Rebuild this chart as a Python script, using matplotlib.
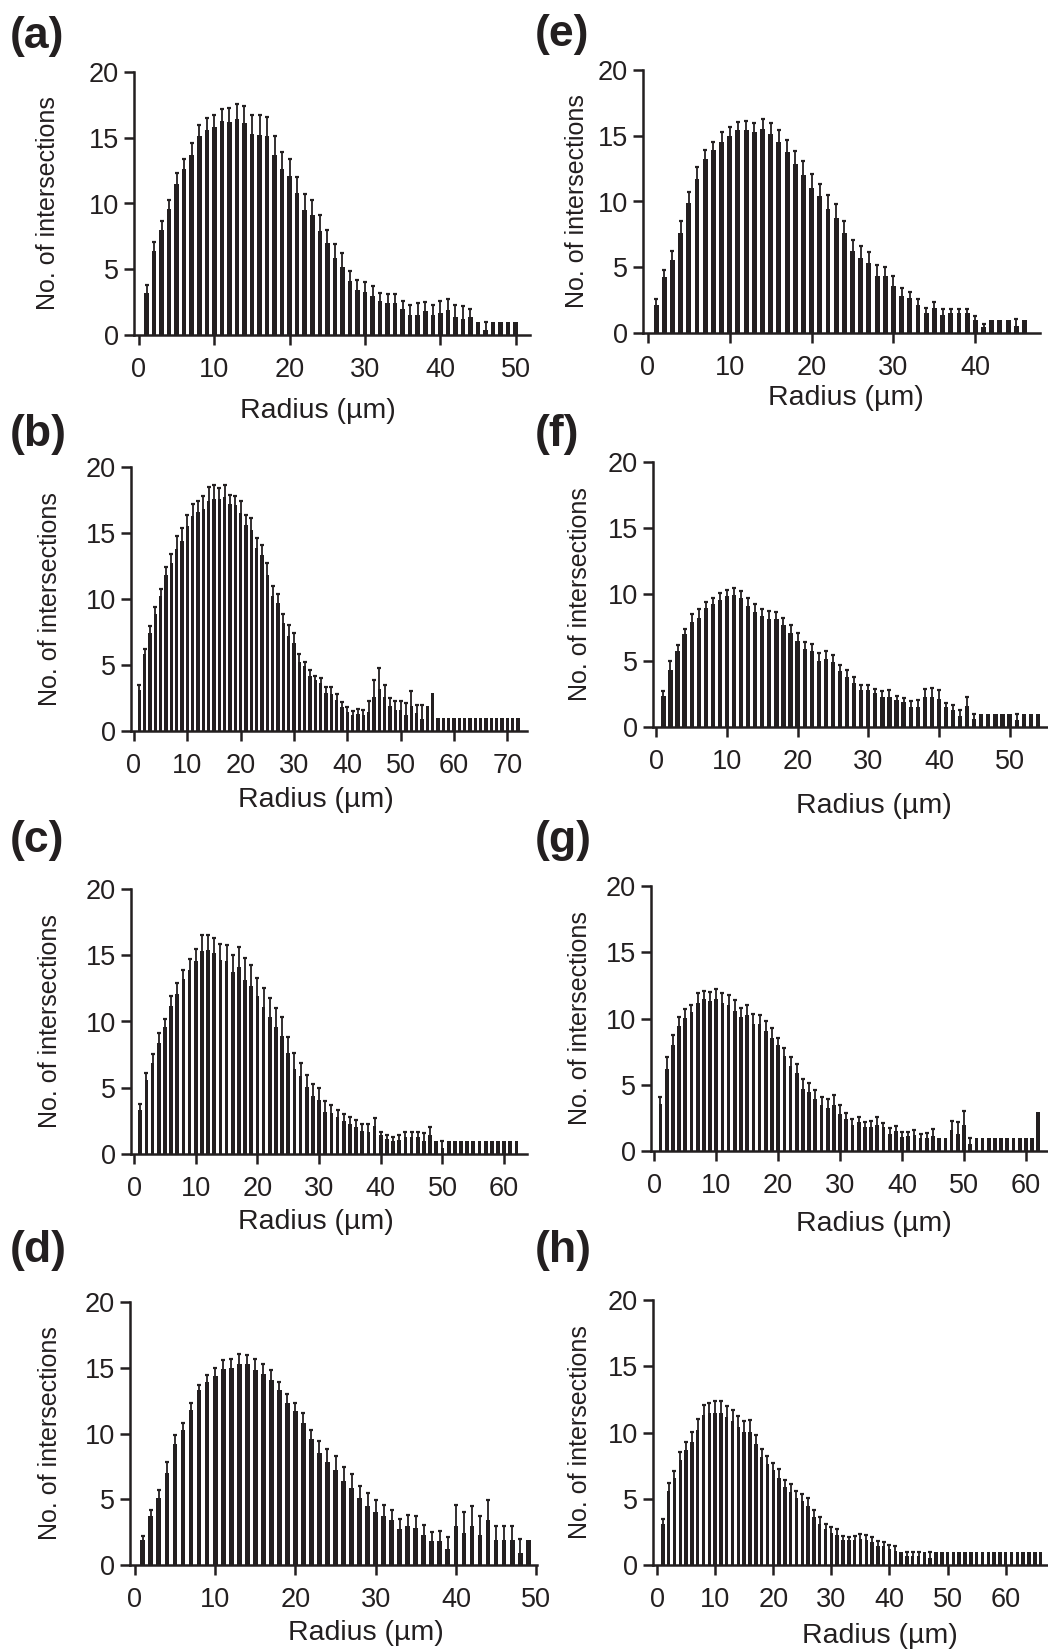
import matplotlib
matplotlib.use("Agg")
import matplotlib.pyplot as plt
import numpy as np

plt.rcParams['font.family'] = ['Liberation Sans', 'DejaVu Sans']

# mean number of intersections and SEM per radius step (1 um)
a_mean = [3.2, 6.4, 8.0, 9.6, 11.5, 12.6, 13.7, 15.1, 15.6, 15.8, 16.3, 16.2, 16.4, 16.1, 15.3, 15.2, 15.1,
          13.7, 12.6, 12.1, 10.8, 9.5, 9.1, 7.9, 7.0, 5.85, 5.2, 4.1, 3.4, 3.3, 3.0, 2.6, 2.4, 2.45, 2.0,
          1.55, 1.55, 1.8, 1.5, 1.7, 1.9, 1.4, 1.25, 1.4, 1.0, 0.4, 1.0, 1.0, 1.0, 1.0]
a_sem = [0.6, 0.7, 0.7, 0.7, 0.85, 0.8, 0.9, 0.9, 0.9, 0.9, 0.9, 1.1, 1.2, 1.3, 1.4, 1.5, 1.5, 1.4, 1.3,
         1.3, 1.2, 1.2, 1.2, 1.2, 1.0, 1.05, 1.0, 0.8, 0.8, 0.7, 0.7, 0.6, 0.7, 0.65, 0.6, 0.7, 0.85,
         0.7, 0.8, 0.9, 0.8, 0.9, 0.95, 0.6, 0, 0.6, 0, 0, 0, 0]

b_mean = [3.1, 5.8, 7.4, 8.9, 10.25, 11.8, 12.7, 13.8, 14.4, 15.5, 16.3, 16.6, 16.8, 17.4, 17.6, 17.6,
          17.7, 17.2, 17.1, 16.5, 15.6, 15.2, 13.9, 13.3, 11.8, 10.2, 9.7, 8.2, 7.2, 6.7, 5.25, 4.9, 4.2,
          3.9, 3.6, 2.85, 2.8, 2.35, 1.85, 1.45, 1.2, 1.25, 1.2, 1.45, 2.55, 3.2, 2.55, 1.9, 1.6, 1.6,
          1.2, 1.9, 1.4, 0.9, 1.9, 2.9, 1.0, 1.0, 1.0, 1.0, 1.0, 1.0, 1.0, 1.0, 1.0, 1.0, 1.0, 1.0,
          1.0, 1.0, 1.0, 1.0]
b_sem = [0.4, 0.4, 0.55, 0.5, 0.5, 0.6, 0.7, 1.0, 1.0, 0.9, 0.9, 0.85, 1.0, 1.05, 1.0, 0.8, 0.9, 0.7,
         0.7, 0.9, 0.8, 0.9, 0.7, 0.8, 0.9, 0.8, 0.7, 0.7, 0.8, 0.7, 0.55, 0.35, 0.4, 0.25, 0.4, 0.45,
         0.5, 0.45, 0.35, 0.35, 0.35, 0.45, 0.4, 0.85, 1.35, 1.55, 0.95, 0.6, 0.7, 0.7, 0.95, 1.1, 0.6,
         1.1, 0, 0, 0, 0, 0, 0, 0, 0, 0, 0, 0, 0, 0, 0, 0, 0, 0, 0]

c_mean = [3.3, 5.6, 6.9, 8.4, 9.55, 11.2, 12.1, 13.2, 13.85, 14.6, 15.35, 15.4, 15.2, 14.65, 14.55, 13.7,
          14.15, 13.15, 12.7, 11.9, 11.1, 10.35, 9.55, 8.9, 7.6, 6.4, 5.85, 5.05, 4.4, 4.05, 3.2, 3.1,
          2.8, 2.5, 2.3, 2.05, 1.75, 1.65, 2.15, 1.4, 1.15, 1.0, 1.05, 1.3, 1.3, 1.3, 1.0, 1.4, 1.0,
          0.45, 1.0, 1.0, 1.0, 1.0, 1.0, 1.0, 1.0, 1.0, 1.0, 1.0, 1.0, 1.0]
c_sem = [0.45, 0.5, 0.65, 0.7, 0.65, 0.7, 0.8, 0.7, 0.85, 0.9, 1.15, 1.15, 1.1, 1.2, 1.25, 1.3, 1.45,
         1.65, 1.6, 1.4, 1.4, 1.45, 1.45, 1.45, 1.2, 1.2, 1.05, 0.9, 0.85, 0.9, 0.8, 0.6, 0.55, 0.5,
         0.5, 0.5, 0.5, 0.6, 0.6, 0.25, 0.25, 0.3, 0.35, 0.35, 0.35, 0.35, 0.55, 0.6, 0, 0.5,
         0, 0, 0, 0, 0, 0, 0, 0, 0, 0, 0, 0]

d_mean = [1.9, 3.7, 5.1, 7.0, 9.2, 10.3, 11.8, 13.3, 13.9, 14.4, 14.9, 14.95, 15.25, 15.25, 14.85, 14.5,
          14.1, 13.3, 12.35, 11.7, 10.8, 9.55, 8.55, 7.8, 7.25, 6.4, 5.85, 5.1, 4.5, 4.0, 3.75, 3.45,
          2.75, 3.0, 2.85, 2.25, 1.85, 1.85, 1.25, 2.95, 2.45, 2.95, 2.25, 3.45, 1.9, 1.9, 1.9, 0.9, 1.9]
d_sem = [0.3, 0.5, 0.6, 0.8, 0.65, 0.5, 0.5, 0.4, 0.55, 0.6, 0.7, 0.7, 0.8, 0.75, 0.85, 0.75, 0.75, 0.6,
         0.65, 0.65, 0.75, 0.75, 0.9, 1.0, 1.05, 1.05, 1.1, 0.9, 0.95, 0.95, 0.8, 0.75, 0.75, 0.8, 0.85,
         0.8, 0.65, 0.75, 0.85, 1.65, 1.55, 1.55, 1.5, 1.5, 1.05, 1.05, 1.05, 1.05, 0]

e_mean = [2.15, 4.25, 5.55, 7.6, 9.9, 11.7, 13.2, 13.9, 14.55, 14.95, 15.45, 15.45, 15.25, 15.5, 15.1,
          14.55, 13.8, 12.85, 12.0, 11.05, 10.4, 9.4, 8.75, 7.6, 6.2, 5.7, 5.3, 4.3, 4.3, 3.55, 2.85,
          2.65, 2.15, 1.5, 1.9, 1.4, 1.5, 1.5, 1.5, 1.0, 0.45, 1.0, 1.0, 1.0, 0.5, 1.0]
e_sem = [0.4, 0.55, 0.7, 0.9, 0.85, 0.9, 0.7, 0.65, 0.7, 0.7, 0.6, 0.65, 0.75, 0.8, 0.85, 0.85, 0.85,
         1.0, 1.1, 1.05, 0.95, 1.1, 1.05, 0.95, 0.9, 0.95, 0.85, 0.85, 0.7, 0.75, 0.55, 0.45, 0.45, 0.4,
         0.45, 0.4, 0.3, 0.3, 0.3, 0.3, 0.25, 0, 0, 0, 0.6, 0]

f_mean = [2.35, 4.3, 5.75, 7.05, 7.95, 8.25, 8.95, 9.25, 9.6, 9.85, 9.95, 9.75, 9.15, 8.7, 8.4, 8.15,
          8.15, 7.7, 7.1, 6.5, 5.85, 5.7, 4.95, 5.15, 4.9, 4.2, 3.75, 3.3, 2.8, 2.8, 2.55, 2.3, 2.3,
          2.05, 1.85, 1.5, 1.5, 2.3, 2.3, 2.15, 1.5, 1.3, 0.8, 1.6, 0.6, 1.0, 1.0, 1.0, 1.0, 1.0, 0.5,
          1.0, 1.0, 1.0]
f_sem = [0.4, 0.65, 0.45, 0.35, 0.55, 0.65, 0.45, 0.45, 0.5, 0.5, 0.55, 0.55, 0.6, 0.6, 0.5, 0.6, 0.55,
         0.55, 0.6, 0.6, 0.6, 0.6, 0.65, 0.55, 0.55, 0.45, 0.55, 0.5, 0.4, 0.35, 0.35, 0.45, 0.5, 0.3,
         0.35, 0.45, 0.55, 0.6, 0.65, 0.65, 0.3, 0.35, 0.5, 0.7, 0.4, 0, 0, 0, 0, 0, 0.5, 0, 0, 0]

g_mean = [3.55, 6.2, 8.0, 9.4, 10.05, 10.5, 11.2, 11.45, 11.35, 11.45, 11.2, 11.05, 10.6, 10.15, 10.3,
          9.55, 9.55, 9.05, 8.5, 8.0, 7.15, 6.4, 5.9, 4.7, 4.45, 3.95, 3.45, 3.25, 3.45, 2.8, 2.45, 2.0,
          2.2, 1.8, 1.8, 2.0, 1.8, 1.3, 1.5, 1.05, 1.1, 1.2, 0.95, 1.0, 1.15, 1.0, 1.0, 1.6, 1.25, 1.95,
          0.55, 1.0, 1.0, 1.0, 1.0, 1.0, 1.0, 1.0, 1.0, 1.0, 1.0, 2.95]
g_sem = [0.55, 0.9, 0.75, 0.7, 0.65, 0.55, 0.7, 0.65, 0.65, 0.8, 0.75, 0.75, 0.8, 0.65, 0.75, 0.8, 0.75,
         0.75, 0.75, 0.5, 0.65, 0.7, 0.65, 0.7, 0.7, 0.65, 0.6, 0.7, 0.75, 0.65, 0.4, 0.4, 0.4, 0.4,
         0.45, 0.55, 0.35, 0.4, 0.35, 0.35, 0.35, 0.4, 0.3, 0.35, 0.5, 0, 0, 0.7, 0.95, 1.05, 0.45,
         0, 0, 0, 0, 0, 0, 0, 0, 0, 0, 0]

h_mean = [3.1, 5.6, 6.55, 7.95, 8.65, 9.3, 10.2, 11.3, 11.45, 11.45, 11.45, 11.2, 10.9, 10.45, 10.05,
          10.05, 9.1, 8.15, 7.6, 7.15, 6.55, 5.85, 5.5, 5.05, 4.85, 4.45, 3.65, 3.1, 2.7, 2.45, 2.3, 1.9,
          1.85, 1.9, 2.0, 1.9, 1.75, 1.45, 1.4, 1.2, 1.05, 0.95, 0.65, 0.65, 0.65, 0.95, 0.5,
          1.0, 1.0, 1.0, 1.0, 1.0, 1.0, 1.0, 1.0, 1.0, 1.0, 1.0, 1.0, 1.0, 1.0, 1.0, 1.0, 1.0, 1.0, 1.0]
h_sem = [0.4, 0.6, 0.55, 0.6, 0.65, 0.75, 0.85, 0.8, 0.8, 0.9, 0.9, 0.8, 0.8, 0.8, 0.8, 0.9, 0.7, 0.6,
         0.6, 0.55, 0.7, 0.6, 0.6, 0.55, 0.5, 0.6, 0.5, 0.5, 0.4, 0.45, 0.4, 0.3, 0.3, 0.3, 0.35, 0.35,
         0.4, 0.35, 0.3, 0.3, 0.35, 0, 0.3, 0.35, 0.35, 0, 0.5,
         0, 0, 0, 0, 0, 0, 0, 0, 0, 0, 0, 0, 0, 0, 0, 0, 0, 0, 0]

panels = [
    # label, mean, sem, x-limits, axes box px (left, right, top, bottom),
    # panel label px, x-label centre px, y-label centre x px
    ('(a)', a_mean, a_sem, (-0.66, 51.9), (134, 530, 72, 335), (10, 16), (318, 411), 48),
    ('(b)', b_mean, b_sem, (-0.56, 73.7), (131, 527, 467, 731), (10, 414), (316, 800), 50),
    ('(c)', c_mean, c_sem, (-0.49, 63.7), (131, 527, 889, 1154), (10, 820), (316, 1222), 50),
    ('(d)', d_mean, d_sem, (-0.6, 50.1), (130, 537, 1302, 1565), (10, 1230), (366, 1633), 50),
    ('(e)', e_mean, e_sem, (-0.6, 47.9), (643, 1040, 70, 333), (535, 14), (846, 398), 577),
    ('(f)', f_mean, f_sem, (-0.47, 55.3), (653, 1047, 462, 727), (535, 414), (874, 806), 580),
    ('(g)', g_mean, g_sem, (-0.53, 63.4), (651, 1047, 886, 1151), (535, 820), (874, 1224), 580),
    ('(h)', h_mean, h_sem, (-0.69, 67.1), (653, 1047, 1300, 1565), (535, 1230), (880, 1636), 580),
]

W, H = 1048, 1651
fig = plt.figure(figsize=(W / 100, H / 100), dpi=100)
col = '#231f20'

for lab, mean, sem, xl, box, lpos, xlab, ylab_x in panels:
    l, r, t, b = box
    ax = fig.add_axes([l / W, 1 - b / H, (r - l) / W, (b - t) / H])
    mean = np.array(mean)
    sem = np.array(sem)
    x = np.arange(1, len(mean) + 1)
    ax.bar(x, mean, width=0.6, color=col, linewidth=0)
    m = sem > 0
    ax.vlines(x[m], mean[m], mean[m] + sem[m], color=col, lw=1.3)
    ax.plot(x[m], mean[m] + sem[m], ls='none', marker='_', ms=3.2, mew=1.6, color=col)
    ax.set_xlim(*xl)
    ax.set_ylim(0, 20)
    ax.set_yticks([0, 5, 10, 15, 20])
    ax.set_xticks(np.arange(0, xl[1], 10))
    for s in ['top', 'right']:
        ax.spines[s].set_visible(False)
    for s in ['left', 'bottom']:
        ax.spines[s].set_linewidth(1.8)
        ax.spines[s].set_color(col)
    ax.tick_params(width=1.8, length=7, labelsize=19.5, color=col, labelcolor=col)
    ax.tick_params(axis='y', pad=4)
    ax.tick_params(axis='x', pad=8.5)
    ax.set_xlabel('Radius (µm)', fontsize=20.5, color=col)
    ax.xaxis.set_label_coords((xlab[0] - l) / (r - l), (b - xlab[1]) / (b - t))
    ax.xaxis.label.set_va('center')
    ax.set_ylabel('No. of intersections', fontsize=18, color=col)
    ax.yaxis.set_label_coords((ylab_x - l) / (r - l), 0.5)
    ax.yaxis.label.set_va('center')
    fig.text(lpos[0] / W, 1 - lpos[1] / H, lab, fontsize=32, fontweight='bold',
             color=col, ha='left', va='top')

fig.savefig('out.png', dpi=100)
